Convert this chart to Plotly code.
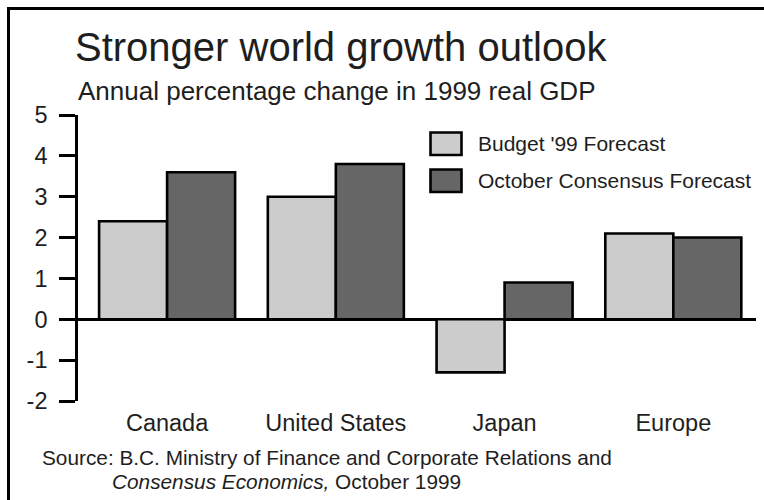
import plotly.graph_objects as go

# Annual % change in 1999 real GDP
regions = ["Canada", "United States", "Japan", "Europe"]
budget_99 = [2.4, 3.0, -1.3, 2.1]
october_consensus = [3.6, 3.8, 0.9, 2.0]
series_names = ["Budget '99 Forecast", "October Consensus Forecast"]
y_ticks = [-2, -1, 0, 1, 2, 3, 4, 5]

W, H = 764, 500
L, R, T, B = 78, 8, 115, 99
PW, PH = W - L - R, H - T - B


def px(x):
    """pixel x -> paper x"""
    return (x - L) / PW


def py(y):
    """pixel y -> paper y"""
    return (H - B - y) / PH


FONT = "Liberation Sans, Arial, sans-serif"
INK = "#1e1e1e"
LIGHT, DARK = "#cccccc", "#666666"

fig = go.Figure()
for name, vals, col in [(series_names[0], budget_99, LIGHT),
                        (series_names[1], october_consensus, DARK)]:
    fig.add_trace(go.Bar(
        x=regions, y=vals, name=name,
        marker=dict(color=col, line=dict(color="black", width=2.6)),
        showlegend=False, hoverinfo="x+y",
    ))

fig.update_layout(
    width=W, height=H,
    margin=dict(l=L, r=R, t=T, b=B, pad=0),
    paper_bgcolor="white", plot_bgcolor="white",
    barmode="group", bargap=0.194, bargroupgap=0,
    font=dict(family=FONT, color=INK),
    xaxis=dict(
        range=[-0.528, 3.49], showline=False, ticks="", showgrid=False,
        zeroline=False, tickfont=dict(size=23.5, color=INK, family=FONT),
        ticklabelstandoff=5,
    ),
    yaxis=dict(
        range=[-2, 5], tickvals=y_ticks, ticktext=[str(v) for v in y_ticks],
        showline=True, linecolor="black", linewidth=2.6,
        ticks="outside", ticklen=16, tickwidth=2.6, tickcolor="black",
        showgrid=False, zeroline=True, zerolinecolor="black", zerolinewidth=2.6,
        tickfont=dict(size=23.5, color=INK, family=FONT),
        ticklabelstandoff=7,
    ),
)

shapes = []
# frame: top and left rules
shapes.append(dict(type="line", xref="paper", yref="paper",
                   x0=px(7), x1=px(766), y0=py(8.5), y1=py(8.5),
                   line=dict(color="black", width=3)))
shapes.append(dict(type="line", xref="paper", yref="paper",
                   x0=px(8.5), x1=px(8.5), y0=py(7), y1=py(502),
                   line=dict(color="black", width=3)))

# legend swatches and labels
legend_rows = [(132.5, 155, LIGHT, series_names[0]),
               (169.5, 192, DARK, series_names[1])]
annotations = []
for y0, y1, col, name in legend_rows:
    shapes.append(dict(type="rect", xref="paper", yref="paper",
                       x0=px(430.5), x1=px(461.5), y0=py(y1), y1=py(y0),
                       fillcolor=col, line=dict(color="black", width=2.6)))
    annotations.append(dict(text=name, xref="paper", yref="paper",
                            x=px(476), y=py((y0 + y1) / 2),
                            xanchor="left", yanchor="middle", showarrow=False,
                            font=dict(size=21, color=INK, family=FONT)))

annotations += [
    dict(text="Stronger world growth outlook", xref="paper", yref="paper",
         x=px(73), y=py(47), xanchor="left", yanchor="middle",
         showarrow=False, font=dict(size=40, color=INK, family=FONT)),
    dict(text="Annual percentage change in 1999 real GDP", xref="paper",
         yref="paper", x=px(76), y=py(91), xanchor="left", yanchor="middle",
         showarrow=False, font=dict(size=26, color=INK, family=FONT)),
    dict(text="Source: B.C. Ministry of Finance and Corporate Relations and",
         xref="paper", yref="paper", x=px(40), y=py(457), xanchor="left",
         yanchor="middle", showarrow=False,
         font=dict(size=20.8, color=INK, family=FONT)),
    dict(text="<i>Consensus Economics,</i> October 1999",
         xref="paper", yref="paper", x=px(110), y=py(481), xanchor="left",
         yanchor="middle", showarrow=False,
         font=dict(size=20.8, color=INK, family=FONT)),
]

fig.update_layout(shapes=shapes, annotations=annotations)
fig.write_html("out.html")
